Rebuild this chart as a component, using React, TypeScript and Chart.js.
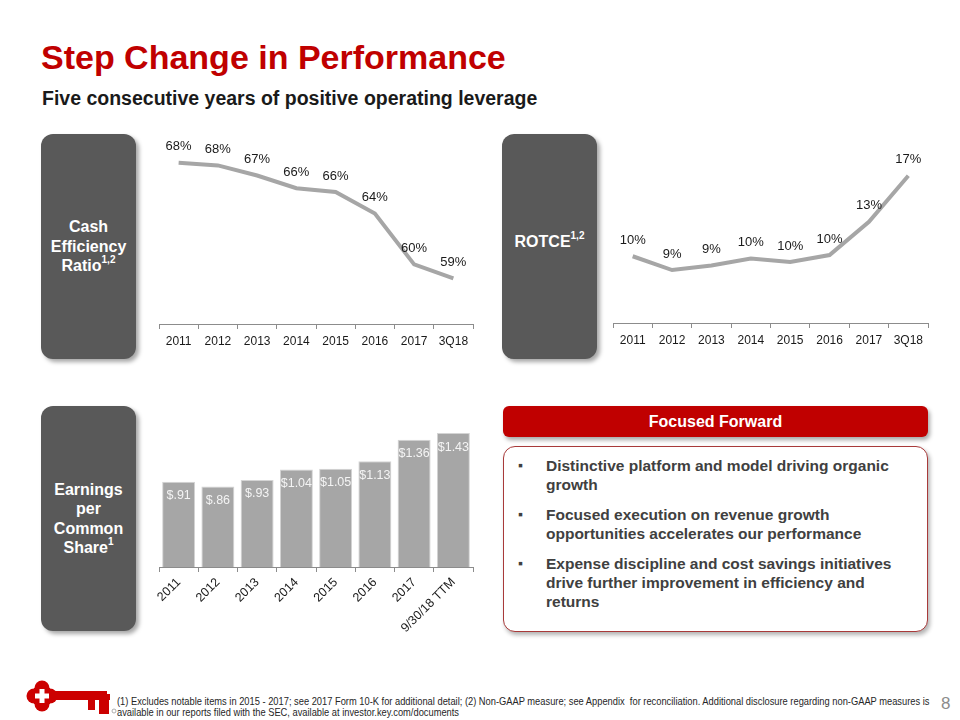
import React, { useEffect, useRef } from "react";
import { Chart, registerables } from "chart.js";

Chart.register(...registerables);

// ---------- data ----------
const yearCategories = ["2011", "2012", "2013", "2014", "2015", "2016", "2017", "3Q18"];
const cashEfficiencyValues = [68.4, 68.2, 67.4, 66.4, 66.1, 64.4, 60.4, 59.3];
const rotceValues = [10.1, 8.9, 9.3, 9.9, 9.6, 10.2, 13.1, 17.1];
const epsCategories = ["2011", "2012", "2013", "2014", "2015", "2016", "2017", "9/30/18 TTM"];
const epsValues = [0.91, 0.86, 0.93, 1.04, 1.05, 1.13, 1.36, 1.43];

const bulletPoints = [
  ["Distinctive platform and model driving organic", "growth"],
  ["Focused execution on revenue growth", "opportunities accelerates our performance"],
  ["Expense discipline and cost savings initiatives", "drive further improvement in efficiency and", "returns"],
];

const FONT = "'Liberation Sans', Arial, Helvetica, sans-serif";
const LINE_GRAY = "#A6A6A6";
const AXIS_GRAY = "#8C8C8C";

const pct = (v: number) => `${Math.round(v)}%`;
const dollars = (v: number) => (v < 1 ? `$${v.toFixed(2).slice(1)}` : `$${v.toFixed(2)}`);

function valueLabelPlugin(fmt: (v: number) => string, dy: number, color: string, size: number) {
  return {
    id: "valueLabels",
    afterDatasetsDraw(chart: any) {
      const ctx = chart.ctx;
      const meta = chart.getDatasetMeta(0);
      const data = chart.data.datasets[0].data as number[];
      ctx.save();
      ctx.font = `${size}px ${FONT}`;
      ctx.fillStyle = color;
      ctx.textAlign = "center";
      ctx.textBaseline = "middle";
      meta.data.forEach((el: any, i: number) => {
        ctx.fillText(fmt(data[i]), el.x, el.y + dy);
      });
      ctx.restore();
    },
  };
}

function xAxis(height: number, rotate: boolean, labelPadding: number, size: number) {
  return {
    type: "category",
    offset: true,
    grid: {
      offset: true,
      drawOnChartArea: false,
      drawTicks: true,
      tickLength: 5,
      color: AXIS_GRAY,
      lineWidth: 1,
    },
    border: { display: true, color: AXIS_GRAY, width: 1 },
    ticks: {
      color: "#1A1A1A",
      font: { family: FONT, size },
      padding: labelPadding,
      autoSkip: false,
      minRotation: rotate ? 45 : 0,
      maxRotation: rotate ? 45 : 0,
    },
    afterFit: (scale: any) => {
      scale.height = height;
    },
  };
}

function lineConfig(values: number[], yMin: number, yMax: number, padL: number, padR: number, axisH: number) {
  return {
    type: "line",
    data: {
      labels: yearCategories,
      datasets: [
        {
          data: values,
          borderColor: LINE_GRAY,
          borderWidth: 4,
          pointRadius: 0,
          tension: 0,
          fill: false,
        },
      ],
    },
    options: {
      animation: false,
      responsive: false,
      maintainAspectRatio: false,
      layout: { padding: { left: padL, right: padR, top: 5, bottom: 0 } },
      plugins: { legend: { display: false }, tooltip: { enabled: false } },
      scales: {
        x: xAxis(axisH, false, 5, 12),
        y: { display: false, min: yMin, max: yMax },
      },
    },
    plugins: [valueLabelPlugin(pct, -16, "#1A1A1A", 13)],
  };
}

function barConfig() {
  return {
    type: "bar",
    data: {
      labels: epsCategories,
      datasets: [
        {
          data: epsValues,
          backgroundColor: LINE_GRAY,
          borderColor: "#D4D4D4",
          borderWidth: 1,
          categoryPercentage: 1,
          barPercentage: 0.84,
        },
      ],
    },
    options: {
      animation: false,
      responsive: false,
      maintainAspectRatio: false,
      layout: { padding: { left: 19, right: 17, top: 5, bottom: 0 } },
      plugins: { legend: { display: false }, tooltip: { enabled: false } },
      scales: {
        x: xAxis(73, true, 3, 12.5),
        y: { display: false, min: 0, max: 1.57 },
      },
    },
    plugins: [valueLabelPlugin(dollars, 14, "#F4F4F4", 12.5)],
  };
}

function ChartCanvas({ make, left, top, width, height }: any) {
  const ref = useRef<HTMLCanvasElement>(null);
  useEffect(() => {
    if (!ref.current) return;
    const chart = new Chart(ref.current, make());
    return () => chart.destroy();
  }, []);
  return (
    <canvas
      ref={ref}
      width={width}
      height={height}
      style={{ position: "absolute", left, top, width, height, display: "block" }}
    />
  );
}

function SideBox({ left, top, children }: any) {
  return (
    <div
      style={{
        position: "absolute",
        left,
        top,
        width: 95,
        height: 225,
        borderRadius: 12,
        background: "#595959",
        boxShadow: "3px 3px 4px rgba(0,0,0,0.35)",
        display: "flex",
        alignItems: "center",
        justifyContent: "center",
        textAlign: "center",
        color: "#FFFFFF",
        fontFamily: FONT,
        fontWeight: 700,
        fontSize: 16,
        lineHeight: "19.5px",
      }}
    >
      <div>{children}</div>
    </div>
  );
}

const supStyle: any = { fontSize: 10, verticalAlign: "top", position: "relative", top: -1, lineHeight: "10px" };

function KeyLogo() {
  return (
    <svg width="96" height="36" viewBox="0 0 96 36" style={{ position: "absolute", left: 25, top: 680 }}>
      <g fill="#CC0000">
        <circle cx="17" cy="8" r="7.5" />
        <circle cx="17" cy="24" r="7.5" />
        <circle cx="9" cy="16" r="7.5" />
        <circle cx="25" cy="16" r="7.5" />
        <rect x="9" y="8" width="16" height="16" />
        <rect x="28" y="11" width="54" height="9" />
        <rect x="62" y="14" width="23" height="6" />
        <rect x="63" y="18" width="7" height="12" />
        <rect x="74" y="18" width="10" height="16" />
      </g>
      <g fill="#FFFFFF">
        <rect x="14.5" y="9" width="5" height="14" />
        <rect x="10" y="13.5" width="14" height="5" />
      </g>
      <circle cx="89" cy="31" r="2" fill="none" stroke="#999" strokeWidth="0.8" />
    </svg>
  );
}

export default function App() {
  useEffect(() => {
    document.body.style.margin = "0";
  }, []);
  return (
    <div
      style={{
        position: "fixed",
        left: 0,
        top: 0,
        width: 960,
        height: 720,
        background: "#FFFFFF",
        overflow: "hidden",
        fontFamily: FONT,
      }}
    >
      <div
        style={{
          position: "absolute",
          left: 41,
          top: 40,
          fontSize: 34,
          lineHeight: "34px",
          fontWeight: 700,
          color: "#C00000",
          whiteSpace: "nowrap",
        }}
      >
        Step Change in Performance
      </div>
      <div
        style={{
          position: "absolute",
          left: 42,
          top: 88,
          fontSize: 19.5,
          lineHeight: "20px",
          fontWeight: 700,
          color: "#1A1A1A",
          whiteSpace: "nowrap",
        }}
      >
        Five consecutive years of positive operating leverage
      </div>

      <SideBox left={41} top={134}>
        Cash
        <br />
        Efficiency
        <br />
        Ratio<span style={supStyle}>1,2</span>
      </SideBox>
      <SideBox left={502} top={134}>
        <div style={{ marginTop: -10 }}>
          ROTCE<span style={supStyle}>1,2</span>
        </div>
      </SideBox>
      <SideBox left={41} top={406}>
        Earnings
        <br />
        per
        <br />
        Common
        <br />
        Share<span style={supStyle}>1</span>
      </SideBox>

      <ChartCanvas
        make={() => lineConfig(cashEfficiencyValues, 55.7, 70.2, 19, 17, 31)}
        left={140}
        top={135}
        width={350}
        height={220}
      />
      <ChartCanvas
        make={() => lineConfig(rotceValues, 4.3, 20.2, 13, 17, 32)}
        left={600}
        top={135}
        width={345}
        height={220}
      />
      <ChartCanvas make={barConfig} left={140} top={415} width={350} height={225} />

      <div
        style={{
          position: "absolute",
          left: 503,
          top: 406,
          width: 425,
          height: 31,
          borderRadius: 6,
          background: "#C00000",
          boxShadow: "2px 3px 4px rgba(0,0,0,0.35)",
          color: "#FFFFFF",
          fontWeight: 700,
          fontSize: 16,
          lineHeight: "31px",
          textAlign: "center",
        }}
      >
        Focused Forward
      </div>
      <div
        style={{
          position: "absolute",
          left: 503,
          top: 446,
          width: 423,
          height: 184,
          borderRadius: 12,
          border: "1.5px solid #A83A3A",
          background: "#FFFFFF",
          boxShadow: "2px 3px 4px rgba(0,0,0,0.3)",
        }}
      >
        <div style={{ position: "absolute", left: 0, top: 9 }}>
          {bulletPoints.map((lines, i) => (
            <div key={i} style={{ position: "relative", marginBottom: 11 }}>
              <span
                style={{
                  position: "absolute",
                  left: 14,
                  top: 0,
                  fontSize: 14,
                  lineHeight: "19px",
                  color: "#404040",
                }}
              >
                ▪
              </span>
              <div
                style={{
                  marginLeft: 42,
                  fontSize: 15.5,
                  lineHeight: "19px",
                  fontWeight: 700,
                  color: "#404040",
                  whiteSpace: "nowrap",
                }}
              >
                {lines.map((l, j) => (
                  <div key={j}>{l}</div>
                ))}
              </div>
            </div>
          ))}
        </div>
      </div>

      <KeyLogo />
      <div
        style={{
          position: "absolute",
          left: 117,
          top: 696,
          fontSize: 10.5,
          lineHeight: "11px",
          color: "#262626",
          whiteSpace: "nowrap",
          transform: "scaleX(0.887)",
          transformOrigin: "0 0",
        }}
      >
        (1) Excludes notable items in 2015 - 2017; see 2017 Form 10-K for additional detail; (2) Non-GAAP measure; see
        Appendix&nbsp; for reconciliation. Additional disclosure regarding non-GAAP measures is
        <br />
        available in our reports filed with the SEC, available at investor.key.com/documents
      </div>
      <div
        style={{
          position: "absolute",
          left: 941,
          top: 695,
          fontSize: 17,
          lineHeight: "18px",
          color: "#8C8C8C",
        }}
      >
        8
      </div>
    </div>
  );
}
